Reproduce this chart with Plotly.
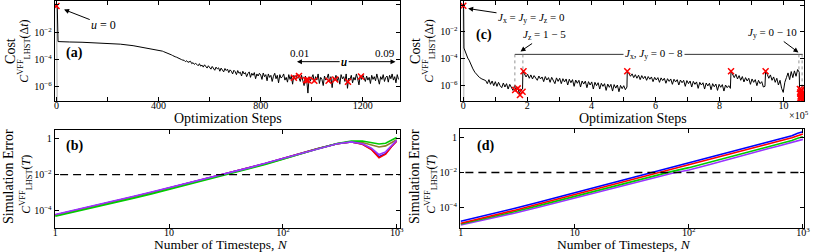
import numpy as np
import plotly.graph_objects as go

# ---------------- DATA ----------------
# Panel (a): cost vs optimization steps (log10 of cost)
a_steps_early = [0, 3, 6, 20, 50, 100, 150, 200, 250, 300, 350, 390]
a_log_early = [-0.07, -0.10, -2.68, -2.70, -2.71, -2.73, -2.76, -2.80, -2.87, -2.98, -3.14, -3.27]
a_noisy_start, a_noisy_end = 400, 1340   # sampled every 5 steps
a_log_noisy = [
    -3.30, -3.33, -3.36, -3.38, -3.42, -3.45, -3.49, -3.52, -3.57, -3.60,
    -3.65, -3.70, -3.72, -3.79, -3.82, -3.88, -3.90, -3.97, -4.00, -4.04,
    -4.05, -4.15, -4.08, -4.20, -4.18, -4.12, -4.30, -4.22, -4.35, -4.28,
    -4.35, -4.45, -4.30, -4.48, -4.40, -4.55, -4.38, -4.50, -4.62, -4.45,
    -4.55, -4.70, -4.50, -4.62, -4.78, -4.55, -4.68, -4.60, -4.85, -4.62,
    -4.72, -4.90, -4.65, -4.80, -4.70, -4.95, -4.75, -4.85, -5.05, -4.78,
    -4.88, -5.10, -4.80, -5.00, -4.92, -5.20, -4.85, -5.05, -4.95, -5.25,
    -5.02, -4.90, -5.30, -5.00, -5.15, -4.95, -5.40, -5.05, -5.20, -5.00,
    -5.13, -5.45, -4.98, -5.25, -5.10, -5.55, -5.05, -5.30, -5.15, -5.60,
    -5.22, -5.00, -5.40, -5.15, -5.70, -5.10, -5.35, -5.25, -5.05, -5.50,
    -5.30, -5.65, -5.10, -5.45, -5.20, -5.80, -5.15, -5.40, -5.30, -5.05,
    -5.35, -5.60, -5.15, -5.50, -5.90, -5.20, -5.45, -6.45, -5.25, -5.55,
    -5.38, -5.10, -5.65, -5.25, -5.50, -5.05, -5.75, -5.30, -5.45, -5.90,
    -5.20, -5.50, -5.35, -5.05, -5.65, -5.25, -6.05, -5.30, -5.45, -5.15,
    -5.55, -5.30, -5.80, -5.10, -5.40, -5.25, -5.60, -5.05, -6.10, -5.35,
    -5.45, -5.15, -5.70, -5.30, -5.50, -5.05, -5.40, -5.85, -5.20, -5.45,
    -5.10, -5.35, -5.60, -5.20, -5.50, -5.30, -5.75, -5.15, -5.45, -5.25,
    -5.55, -5.05, -5.40, -5.80, -5.25, -5.45, -5.10, -5.60, -5.30, -5.20,
    -5.65, -5.15, -5.40, -5.05, -5.50, -5.25, -5.70, -5.10, -5.45]
a_mark_steps = [0, 930, 950, 978, 985, 1010, 1066, 1092, 1142, 1193]
a_mark_log = [-0.07, -5.33, -5.20, -5.50, -5.50, -5.55, -5.55, -5.45, -5.62, -5.23]
a_raw_steps = [0, 1, 2, 3]
a_raw_log = [-0.05, -8.0, -0.2, -8.0]

# Panel (c): cost vs optimization steps (x in units of 1e5, log10 cost)
c_x_early = [0.0, 0.01, 0.02, 0.06, 0.10, 0.14, 0.18, 0.24, 0.30, 0.36, 0.43, 0.50, 0.58, 0.68]
c_log_early = [-0.05, -0.30, -3.20, -3.50, -3.75, -3.95, -4.10, -4.45, -4.75, -5.00, -5.20, -5.38, -5.50, -5.58]
c_seg1 = (0.70, 1.85, [-5.62, -5.85, -5.55, -5.90, -5.65, -6.00, -5.70, -6.05, -5.75, -6.00, -6.15, -5.80,
                       -6.10, -5.85, -6.25, -5.90, -6.20, -6.35, -6.00, -6.40, -6.15, -6.60, -6.30, -6.25])
c_seg2 = (1.86, 5.11, [-4.92, -5.10, -5.35, -5.15, -5.45, -5.20, -5.50, -5.25, -5.40, -5.60, -5.28, -5.50,
                       -5.35, -5.70, -5.32, -5.58, -5.40, -5.75, -5.38, -5.62, -5.85, -5.42, -5.68, -5.45,
                       -5.85, -5.48, -5.72, -5.50, -5.95, -5.52, -5.78, -5.55, -6.05, -5.58, -5.82, -5.60,
                       -6.10, -5.65, -5.88, -5.66, -6.15, -5.70, -5.95, -5.72, -6.25, -5.75, -6.00, -5.78,
                       -6.25, -5.82, -6.05, -5.85, -6.35, -5.88, -6.12, -5.90, -6.40, -5.92, -6.18, -5.95,
                       -6.45, -5.98, -6.22, -6.00, -6.30, -6.10])
c_seg3 = (5.12, 8.34, [-4.92, -5.10, -5.30, -5.12, -5.40, -5.18, -5.45, -5.22, -5.55, -5.25, -5.48, -5.30,
                       -5.60, -5.32, -5.52, -5.35, -5.70, -5.38, -5.58, -5.40, -5.75, -5.42, -5.62, -5.45,
                       -5.82, -5.48, -5.68, -5.50, -5.90, -5.52, -5.72, -5.55, -5.95, -5.58, -5.78, -5.60,
                       -6.05, -5.62, -5.85, -5.65, -6.10, -5.68, -5.90, -5.72, -6.20, -5.75, -5.95, -5.78,
                       -6.25, -5.80, -6.02, -5.82, -6.30, -5.85, -6.08, -5.88, -6.35, -5.90, -6.12, -5.92,
                       -6.40, -5.95, -6.15, -6.00, -6.20])
c_seg4 = (8.36, 9.42, [-4.92, -5.12, -5.40, -5.15, -5.50, -5.25, -5.60, -5.32, -5.72, -5.40, -5.65, -5.45,
                       -5.90, -5.50, -5.75, -5.55, -6.00, -5.60, -5.85, -5.70, -6.10, -6.05])
c_seg5 = (9.44, 10.49, [-4.92, -5.15, -5.45, -5.20, -5.60, -5.35, -5.75, -5.45, -5.95, -5.60, -6.20, -6.50,
                        -5.75, -5.40, -5.05, -5.55, -4.95, -5.40, -4.90, -5.30, -4.80, -5.00])
c_x_final = [10.50]
c_log_final = [-6.30]
c_mark_x = [0.0, 1.62, 1.70, 1.77, 1.85, 1.88, 5.12, 8.36, 9.44,
            10.51, 10.52, 10.53, 10.54, 10.55, 10.56, 10.57, 10.58, 10.52, 10.55, 10.57, 10.54]
c_mark_log = [-0.05, -6.32, -6.20, -6.69, -6.45, -4.92, -4.92, -4.92, -4.92,
              -6.25, -6.50, -6.80, -7.00, -6.40, -6.90, -6.60, -7.05, -6.95, -6.30, -6.75, -6.60]
c_raw_x = [0.0, 0.005, 0.01, 0.015]
c_raw_log = [-0.05, -8.0, -0.2, -8.0]

# Panels (b), (d): simulation error vs number of timesteps (log10 error)
N_vals = [1, 2, 3, 5, 7, 10, 15, 20, 30, 50, 70, 100, 150, 200, 300, 400, 500, 600, 700, 800, 900, 1000]
b_blue = [-4.22, -3.80, -3.55, -3.21, -2.99, -2.745, -2.484, -2.293, -2.013, -1.646, -1.395, -1.12,
          -0.80, -0.58, -0.30, -0.20, -0.32, -0.60, -1.02, -0.85, -0.45, -0.15]
b_red = [-4.22, -3.80, -3.55, -3.21, -2.99, -2.745, -2.484, -2.293, -2.013, -1.646, -1.395, -1.12,
         -0.80, -0.58, -0.30, -0.20, -0.33, -0.62, -1.07, -0.88, -0.47, -0.16]
b_purple = [-4.19, -3.77, -3.52, -3.18, -2.96, -2.72, -2.46, -2.27, -1.99, -1.63, -1.38, -1.11,
            -0.79, -0.57, -0.30, -0.20, -0.30, -0.55, -0.90, -0.75, -0.40, -0.12]
b_olive = [-4.25, -3.83, -3.58, -3.24, -3.02, -2.77, -2.51, -2.32, -2.04, -1.67, -1.42, -1.14,
           -0.81, -0.59, -0.30, -0.19, -0.24, -0.36, -0.48, -0.42, -0.25, -0.08]
b_green = [-4.29, -3.87, -3.62, -3.28, -3.06, -2.81, -2.55, -2.36, -2.07, -1.70, -1.44, -1.16,
           -0.82, -0.59, -0.29, -0.16, -0.15, -0.22, -0.32, -0.28, -0.12, 0.04]
d_blue = [-4.81, -4.35, -4.06, -3.68, -3.43, -3.16, -2.86, -2.64, -2.34, -1.96, -1.71, -1.45,
          -1.14, -0.92, -0.62, -0.40, -0.23, -0.10, 0.02, 0.12, 0.26, 0.35]
d_red = [-4.92, -4.46, -4.17, -3.79, -3.54, -3.27, -2.97, -2.75, -2.45, -2.07, -1.82, -1.56,
         -1.26, -1.04, -0.74, -0.52, -0.35, -0.22, -0.10, 0.00, 0.12, 0.22]
d_green = [-4.97, -4.53, -4.25, -3.88, -3.63, -3.37, -3.08, -2.86, -2.57, -2.19, -1.95, -1.72,
           -1.42, -1.20, -0.90, -0.67, -0.50, -0.37, -0.25, -0.15, -0.03, 0.06]
d_purple = [-5.02, -4.60, -4.33, -3.97, -3.72, -3.47, -3.18, -2.97, -2.68, -2.30, -2.06, -1.85,
            -1.55, -1.32, -1.02, -0.79, -0.62, -0.49, -0.37, -0.27, -0.16, -0.09]
threshold = 1e-2

# ---------------- FIGURE ----------------
W, H = 814, 252
SERIF = "Liberation Serif"
def fx(p): return p / W
def fy(p): return 1 - p / H
def pw(v): return list(10.0 ** np.array(v, dtype=float))

fig = go.Figure()
blk = dict(color="black", width=1)

# panel (a)
a_x = a_steps_early + list(np.linspace(a_noisy_start, a_noisy_end, len(a_log_noisy)))
a_y = pw(a_log_early + a_log_noisy)
fig.add_trace(go.Scatter(x=a_raw_steps, y=pw(a_raw_log), mode="lines", line=dict(color="#c8c8c8", width=1.5), xaxis="x", yaxis="y"))
fig.add_trace(go.Scatter(x=a_x, y=a_y, mode="lines", line=blk, xaxis="x", yaxis="y"))
mk = dict(symbol="x-thin", size=6, line=dict(color="red", width=1.5), color="red")
fig.add_trace(go.Scatter(x=a_mark_steps, y=pw(a_mark_log), mode="markers", marker=mk, xaxis="x", yaxis="y"))

# panel (c)
cx = list(c_x_early); cy = list(c_log_early)
for s, e, vals in [c_seg1, c_seg2, c_seg3, c_seg4, c_seg5]:
    cx += list(np.linspace(s, e, len(vals))); cy += vals
cx += c_x_final; cy += c_log_final
fig.add_trace(go.Scatter(x=c_raw_x, y=pw(c_raw_log), mode="lines", line=dict(color="#c8c8c8", width=1.5), xaxis="x3", yaxis="y3"))
fig.add_trace(go.Scatter(x=cx, y=pw(cy), mode="lines", line=blk, xaxis="x3", yaxis="y3"))
fig.add_trace(go.Scatter(x=c_mark_x, y=pw(c_mark_log), mode="markers", marker=mk, xaxis="x3", yaxis="y3"))

# bracket for (c)
br_y = -3.67
fig.add_trace(go.Scatter(x=[1.61, 10.60], y=pw([br_y, br_y]), mode="lines", line=dict(color="black", width=0.8), xaxis="x3", yaxis="y3"))
for xv, ylo in [(1.61, -6.25), (1.86, -4.92), (10.48, -4.90), (10.58, -6.3)]:
    fig.add_trace(go.Scatter(x=[xv, xv], y=pw([br_y, ylo]), mode="lines", line=dict(color="#777777", width=0.8, dash="dot"), xaxis="x3", yaxis="y3"))

# panel (b)
for vals, col in [(b_blue, "#0000ff"), (b_red, "#ff0000"), (b_olive, "#8b7b2b"), (b_green, "#00cc00"), (b_purple, "#9933ff")]:
    fig.add_trace(go.Scatter(x=N_vals, y=pw(vals), mode="lines", line=dict(color=col, width=1.6), xaxis="x2", yaxis="y2"))
fig.add_trace(go.Scatter(x=[0.5, 2000], y=[threshold, threshold], mode="lines", line=dict(color="black", width=1.4, dash="8px,5px"), xaxis="x2", yaxis="y2"))

# panel (d)
for vals, col in [(d_purple, "#9933ff"), (d_green, "#00cc00"), (d_red, "#ff0000"), (d_blue, "#0000ff")]:
    fig.add_trace(go.Scatter(x=N_vals, y=pw(vals), mode="lines", line=dict(color=col, width=1.6), xaxis="x4", yaxis="y4"))
fig.add_trace(go.Scatter(x=[0.5, 2000], y=[threshold, threshold], mode="lines", line=dict(color="black", width=1.4, dash="8px,5px"), xaxis="x4", yaxis="y4"))

base = dict(showline=True, linecolor="black", linewidth=1.3, mirror="allticks", ticks="inside",
            ticklen=4, tickwidth=1, tickcolor="black", showgrid=False, zeroline=False,
            tickfont=dict(family=SERIF, size=10, color="black"))
xb = dict(base, ticklabelstandoff=-5)
ylogtv = [1, 1e-2, 1e-4, 1e-6]
ylogtt = ["1", "10<sup>−2</sup>", "10<sup>−4</sup>", "10<sup>−6</sup>"]
xlogtv = [1, 10, 100, 1000]
xlogtt = ["1", "10", "10<sup>2</sup>", "10<sup>3</sup>"]

fig.update_layout(
    width=W, height=H, margin=dict(l=0, r=0, t=0, b=0), showlegend=False,
    plot_bgcolor="white", paper_bgcolor="white",
    xaxis=dict(xb, domain=[fx(53.5), fx(402)], range=[-6, 1346], tickvals=[0, 400, 800, 1200],
               minor=dict(tickvals=[200, 600, 1000], ticks="inside", ticklen=4, tickcolor="black"), anchor="y"),
    yaxis=dict(base, domain=[fy(101), fy(1)], type="log", range=[-7.03, 0.29], tickvals=ylogtv, ticktext=ylogtt, anchor="x"),
    xaxis3=dict(xb, domain=[fx(463.3), fx(810)], range=[-0.08, 10.64], tickvals=[0, 2, 4, 6, 8, 10],
                minor=dict(tickvals=[1, 3, 5, 7, 9], ticks="inside", ticklen=4, tickcolor="black"), anchor="y3"),
    yaxis3=dict(base, domain=[fy(101), fy(1)], type="log", range=[-7.14, 0.30], tickvals=ylogtv, ticktext=ylogtt, anchor="x3"),
    xaxis2=dict(xb, domain=[fx(53.3), fx(402)], type="log", range=[-0.005, 3.03], tickvals=xlogtv, ticktext=xlogtt, anchor="y2"),
    yaxis2=dict(base, domain=[fy(227.7), fy(129.5)], type="log", range=[-4.92, 0.48], tickvals=ylogtv[:3], ticktext=ylogtt[:3], anchor="x2"),
    xaxis4=dict(xb, domain=[fx(462.7), fx(810)], type="log", range=[-0.005, 3.01], tickvals=xlogtv, ticktext=xlogtt, anchor="y4"),
    yaxis4=dict(base, domain=[fy(227.7), fy(129.3)], type="log", range=[-5.18, 0.49], tickvals=ylogtv[:3], ticktext=ylogtt[:3], anchor="x4"),
)

ann = []
def ptext(x, y, text, size=13, angle=0, **kw):
    ann.append(dict(x=fx(x), y=fy(y), xref="paper", yref="paper", text=text, showarrow=False,
                    textangle=angle, font=dict(family=SERIF, size=size, color="black"),
                    xanchor="center", yanchor="middle", **kw))

formula_dt = "<i>C</i><sup>VFF</sup><sub>LHST</sub>(Δ<i>t</i>)"
formula_T = "<i>C</i><sup>VFF</sup><sub>LHST</sub>(<i>T</i>)"
# y titles
ptext(9, 51, "Cost", 14, -90); ptext(23, 51, formula_dt, 12, -90)
ptext(418, 51, "Cost", 14, -90); ptext(432, 51, formula_dt, 12, -90)
ptext(6, 176, "Simulation Error", 14, -90); ptext(24, 184, formula_T, 12, -90)
ptext(416, 176, "Simulation Error", 14, -90); ptext(433, 184, formula_T, 12, -90)
# x titles
ptext(228, 118, "Optimization Steps", 14)
ptext(637, 118, "Optimization Steps", 14)
ptext(221, 244.5, "Number of Timesteps, <i>N</i>", 13.5)
ptext(628, 244.5, "Number of Timesteps, <i>N</i>", 13.5)
ptext(805, 115, "×10<sup>5</sup>", 10)
# panel labels
ptext(73, 53, "<b>(a)</b>", 14); ptext(73, 146, "<b>(b)</b>", 14)
ptext(487, 35, "<b>(c)</b>", 14); ptext(488, 146, "<b>(d)</b>", 14)

def atext(xr, yr, x, y, text, size=11, ax=None, ay=None, **kw):
    d = dict(x=x, y=y, xref=xr, yref=yr, text=text, font=dict(family=SERIF, size=size, color="black"))
    if ax is None:
        d.update(showarrow=False)
    else:
        d.update(showarrow=True, ax=ax, ay=ay, axref=xr, ayref=yr, arrowhead=2, arrowsize=1,
                 arrowwidth=1, arrowcolor="black", standoff=1)
    d.update(kw)
    ann.append(d)

# panel (a) annotations
atext("x", "y", 26, -0.31, "<i>u</i> = 0", 12, ax=185, ay=-1.47)
atext("x", "y", 938, -4.15, "<i>u</i>", 12, ax=1127, ay=-4.15)
atext("x", "y", 1332, -4.15, "<i>u</i>", 12, ax=1127, ay=-4.15)
atext("x", "y", 954, -3.52, "0.01", 11)
atext("x", "y", 1286, -3.52, "0.09", 11)
# panel (c) annotations
atext("x3", "y3", 0.12, -0.25, "<i>J</i><sub>x</sub> = <i>J</i><sub>y</sub> = <i>J</i><sub>z</sub> = 0", 11, ax=2.13, ay=-0.97)
atext("x3", "y3", 1.76, -3.49, "<i>J</i><sub>z</sub> = 1 − 5", 11, ax=2.54, ay=-2.23)
atext("x3", "y3", 10.49, -3.57, "<i>J</i><sub>y</sub> = 0 − 10", 11, ax=9.65, ay=-2.08)
atext("x3", "y3", 5.94, br_y, "<i>J</i><sub>x</sub>, <i>J</i><sub>y</sub> = 0 − 8", 11, bgcolor="white")

fig.update_layout(annotations=ann)
fig.write_html("out.html", config={"displayModeBar": False},
               post_script="document.body.style.margin='0';document.body.style.overflow='hidden';")
